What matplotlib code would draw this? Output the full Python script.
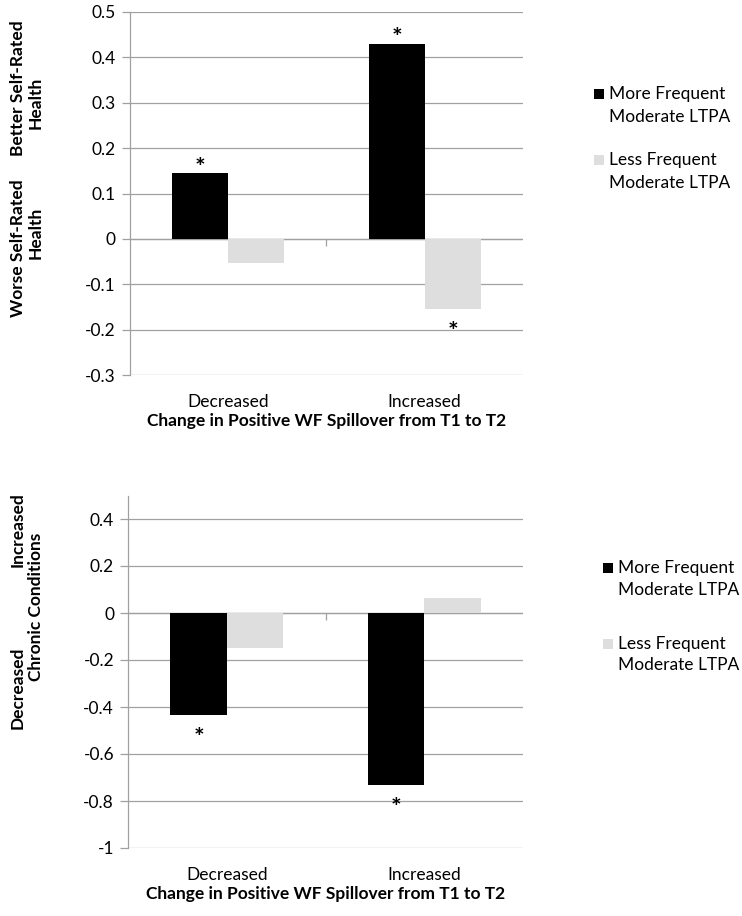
import matplotlib
matplotlib.use("Agg")
from matplotlib import pyplot as plt
from matplotlib.patches import Rectangle

plt.rcParams["font.family"] = ["Lato", "DejaVu Sans"]

W, H = 742, 916

# data
categories = ["Decreased", "Increased"]
series_names = ["More Frequent\nModerate LTPA", "Less Frequent\nModerate LTPA"]
series_colors = ["#000000", "#dedede"]

health_more = [0.145, 0.43]
health_less = [-0.053, -0.155]
health_more_sig = [True, True]
health_less_sig = [False, True]

chronic_more = [-0.434, -0.732]
chronic_less = [-0.149, 0.064]
chronic_more_sig = [True, True]
chronic_less_sig = [False, False]

health_ticks = [-0.3, -0.2, -0.1, 0, 0.1, 0.2, 0.3, 0.4, 0.5]
health_ticklabels = ["-0.3", "-0.2", "-0.1", "0", "0.1", "0.2", "0.3", "0.4", "0.5"]
chronic_ticks = [-1, -0.8, -0.6, -0.4, -0.2, 0, 0.2, 0.4]
chronic_ticklabels = ["-1", "-0.8", "-0.6", "-0.4", "-0.2", "0", "0.2", "0.4"]

XLABEL = "Change in Positive WF Spillover from T1 to T2"
GRID = "#a0a0a0"
FS = 12.5
BAR_W = 0.285


def fx(x):
    return x / W


def fy(y):
    return 1 - y / H


def draw_panel(ax, more, less, more_sig, less_sig, ticks, ticklabels, ylim):
    xs = list(range(len(categories)))
    ax.bar([x - BAR_W / 2 for x in xs], more, width=BAR_W, color=series_colors[0], zorder=3)
    ax.bar([x + BAR_W / 2 for x in xs], less, width=BAR_W, color=series_colors[1], zorder=3)

    # significance stars
    for offs, vals, sigs in ((-BAR_W / 2, more, more_sig), (BAR_W / 2, less, less_sig)):
        for x, v, s in zip(xs, vals, sigs):
            if not s:
                continue
            dy = 3.5 if v > 0 else -17
            ax.annotate("*", (x + offs, v), xytext=(0, dy), textcoords="offset points",
                        ha="center", va="center", fontsize=18, fontweight="bold", zorder=4)

    ax.set_xlim(-0.5, len(categories) - 0.5)
    ax.set_ylim(*ylim)
    ax.set_yticks(ticks)
    ax.set_yticklabels(ticklabels, fontsize=FS)
    ax.set_xticks(xs)
    ax.set_xticklabels(categories, fontsize=FS)
    ax.tick_params(axis="x", length=0, pad=14)
    ax.tick_params(axis="y", length=6, width=0.9, color=GRID, pad=4)
    ax.grid(axis="y", color=GRID, linewidth=0.9, zorder=0)
    for side in ("top", "right", "bottom"):
        ax.spines[side].set_visible(False)
    ax.spines["left"].set_color(GRID)
    ax.spines["left"].set_linewidth(0.9)
    ax.axhline(0, color=GRID, linewidth=0.9, zorder=2)
    # category divider tick on the zero axis
    ax.plot([0.5], [0], marker=3, markersize=5, color=GRID,
            markeredgewidth=0.9, zorder=2, clip_on=False)
    ax.set_xlabel(XLABEL, fontsize=FS, fontweight="bold", labelpad=2)


def draw_legend(fig, x0, rows):
    for color, (y1, y2) in zip(series_colors, rows):
        fig.patches.append(Rectangle((fx(x0), fy(y1 + 5)), 10 / W, 10 / H, facecolor=color,
                                     edgecolor="none", transform=fig.transFigure))
    for name, (y1, y2) in zip(series_names, rows):
        l1, l2 = name.split("\n")
        fig.text(fx(x0 + 15), fy(y1), l1, fontsize=FS, va="center", ha="left")
        fig.text(fx(x0 + 15), fy(y2), l2, fontsize=FS, va="center", ha="left")


fig = plt.figure(figsize=(W / 100, H / 100), dpi=100)

ax1 = fig.add_axes([fx(129.5), fy(375), (523 - 129.5) / W, (375 - 12) / H])
draw_panel(ax1, health_more, health_less, health_more_sig, health_less_sig,
           health_ticks, health_ticklabels, (-0.3, 0.5))

ax2 = fig.add_axes([fx(128), fy(848), (523 - 128) / W, (848 - 495.5) / H])
draw_panel(ax2, chronic_more, chronic_less, chronic_more_sig, chronic_less_sig,
           chronic_ticks, chronic_ticklabels, (-1, 0.5))

# rotated axis descriptions
ylab = dict(rotation=90, ha="center", va="center", fontsize=FS, fontweight="bold")
fig.text(fx(18), fy(88), "Better Self-Rated", **ylab)
fig.text(fx(36), fy(103), "Health", **ylab)
fig.text(fx(18), fy(248), "Worse Self-Rated", **ylab)
fig.text(fx(36), fy(233), "Health", **ylab)
fig.text(fx(18), fy(530), "Increased", **ylab)
fig.text(fx(36), fy(607), "Chronic Conditions", **ylab)
fig.text(fx(18), fy(688), "Decreased", **ylab)

draw_legend(fig, 594, [(94, 117), (160, 183)])
draw_legend(fig, 603, [(568, 590), (644, 665)])

fig.savefig("out.png", dpi=100)
